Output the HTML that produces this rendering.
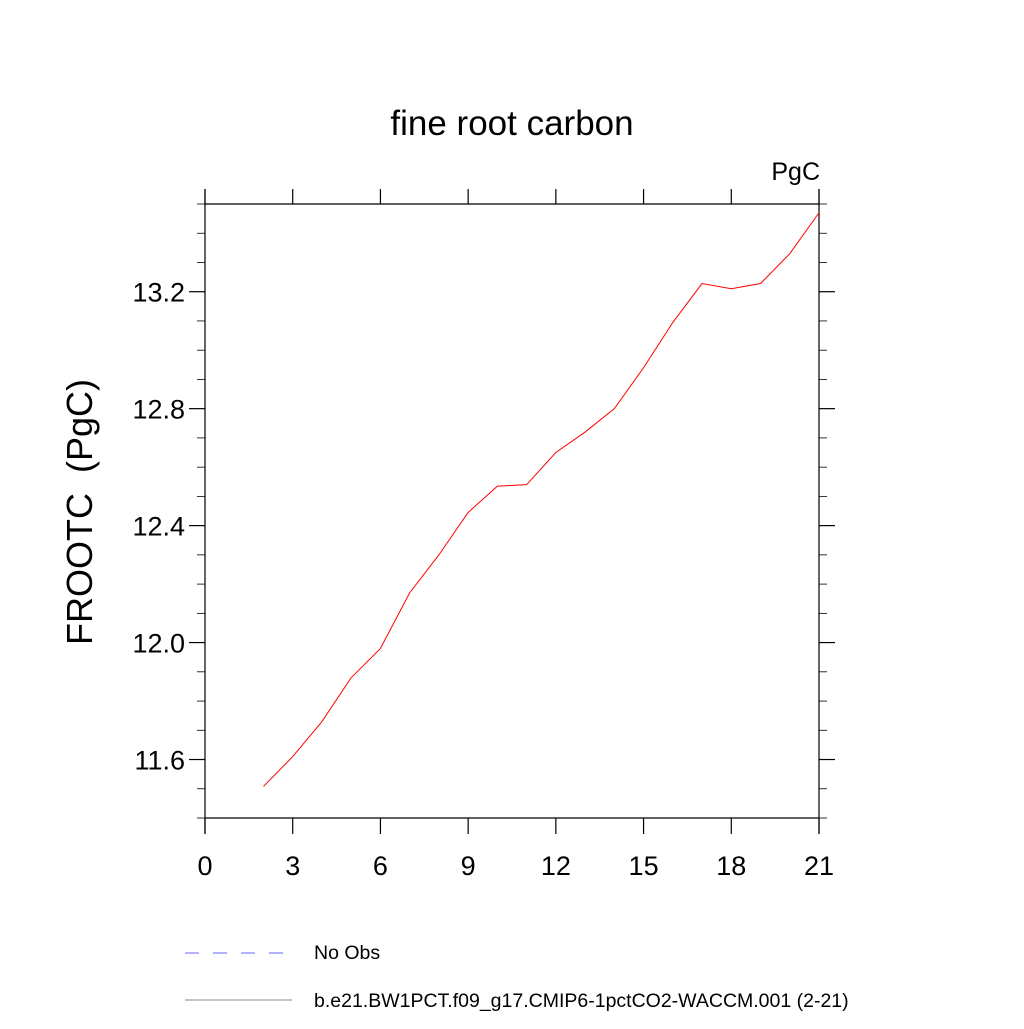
<!DOCTYPE html>
<html><head><meta charset="utf-8"><style>
html,body{margin:0;padding:0;background:#fff;}
svg text{font-family:"Liberation Sans",sans-serif;}
</style></head><body>
<svg id="chart" width="1024" height="1024" xmlns="http://www.w3.org/2000/svg">
<text x="512" y="135" font-size="35" text-anchor="middle">fine root carbon</text>
<text x="820" y="180" font-size="25" text-anchor="end">PgC</text>
<text transform="translate(92,512) rotate(-90)" font-size="36" text-anchor="middle" xml:space="preserve">FROOTC  (PgC)</text>
<g id="axes"></g>
<g id="series"></g>
<g>
<line x1="185" y1="953" x2="292" y2="953" stroke="#6666ff" stroke-width="1" stroke-dasharray="14,14"/>
<text x="314" y="959" font-size="19.5">No Obs</text>
<line x1="185" y1="1000" x2="292" y2="1000" stroke="#888" stroke-width="1"/>
<text x="314" y="1007" font-size="19.5">b.e21.BW1PCT.f09_g17.CMIP6-1pctCO2-WACCM.001 (2-21)</text>
</g>
</svg>
<script>
const years=[2,3,4,5,6,7,8,9,10,11,12,13,14,15,16,17,18,19,20,21];
const frootc=[11.508,11.61,11.73,11.88,11.98,12.17,12.30,12.445,12.535,12.54,12.65,12.72,12.80,12.94,13.095,13.228,13.21,13.228,13.33,13.47];
const xTicks=[0,3,6,9,12,15,18,21];
const yTicks=[11.6,12.0,12.4,12.8,13.2];
const L=205,R=819,T=204,B=818,xMin=0,xMax=21,yMin=11.4,yMax=13.5;
const xs=v=>L+(v-xMin)/(xMax-xMin)*(R-L);
const ys=v=>B-(v-yMin)/(yMax-yMin)*(B-T);
const NS="http://www.w3.org/2000/svg";
const ax=document.getElementById('axes');
function ln(x1,y1,x2,y2,w,name){const e=document.createElementNS(NS,'line');
e.setAttribute('x1',x1);e.setAttribute('y1',y1);e.setAttribute('x2',x2);e.setAttribute('y2',y2);
e.setAttribute('stroke','#000');e.setAttribute('stroke-width',w);


ax.appendChild(e);return e;}
ln(L,T,R,T,1.2,'plot-border-top');ln(L,B,R,B,1.2,'plot-border-bottom');
ln(L,189,L,834,1.2,'y-axis-left');ln(R,189,R,834,1.2,'y-axis-right');
xTicks.forEach(v=>{const x=xs(v);
ln(x,189,x,T,1.2,'x-tick-top');ln(x,B,x,834,1.2,'x-tick-bottom');
const t=document.createElementNS(NS,'text');t.setAttribute('x',x);t.setAttribute('y',875);
t.setAttribute('font-size','27');t.setAttribute('text-anchor','middle');t.textContent=v;


ax.appendChild(t);});
for(let k=0;k<=21;k++){const v=yMin+k*0.1,y=ys(v);const major=yTicks.some(m=>Math.abs(m-v)<1e-6);
const len=major?16:8;ln(L-len,y,L,y,major?1.2:0.8,'y-tick-left');ln(R,y,R+len,y,major?1.2:0.8,'y-tick-right');}
yTicks.forEach(v=>{const t=document.createElementNS(NS,'text');t.setAttribute('x',185);t.setAttribute('y',ys(v)+10);
t.setAttribute('font-size','27');t.setAttribute('text-anchor','end');t.textContent=v.toFixed(1);


ax.appendChild(t);});
const p=document.createElementNS(NS,'polyline');
p.setAttribute('points',years.map((x,i)=>xs(x)+','+ys(frootc[i])).join(' '));
p.setAttribute('fill','none');p.setAttribute('stroke','#ff0000');p.setAttribute('stroke-width','1');


document.getElementById('series').appendChild(p);
</script>
</body></html>
